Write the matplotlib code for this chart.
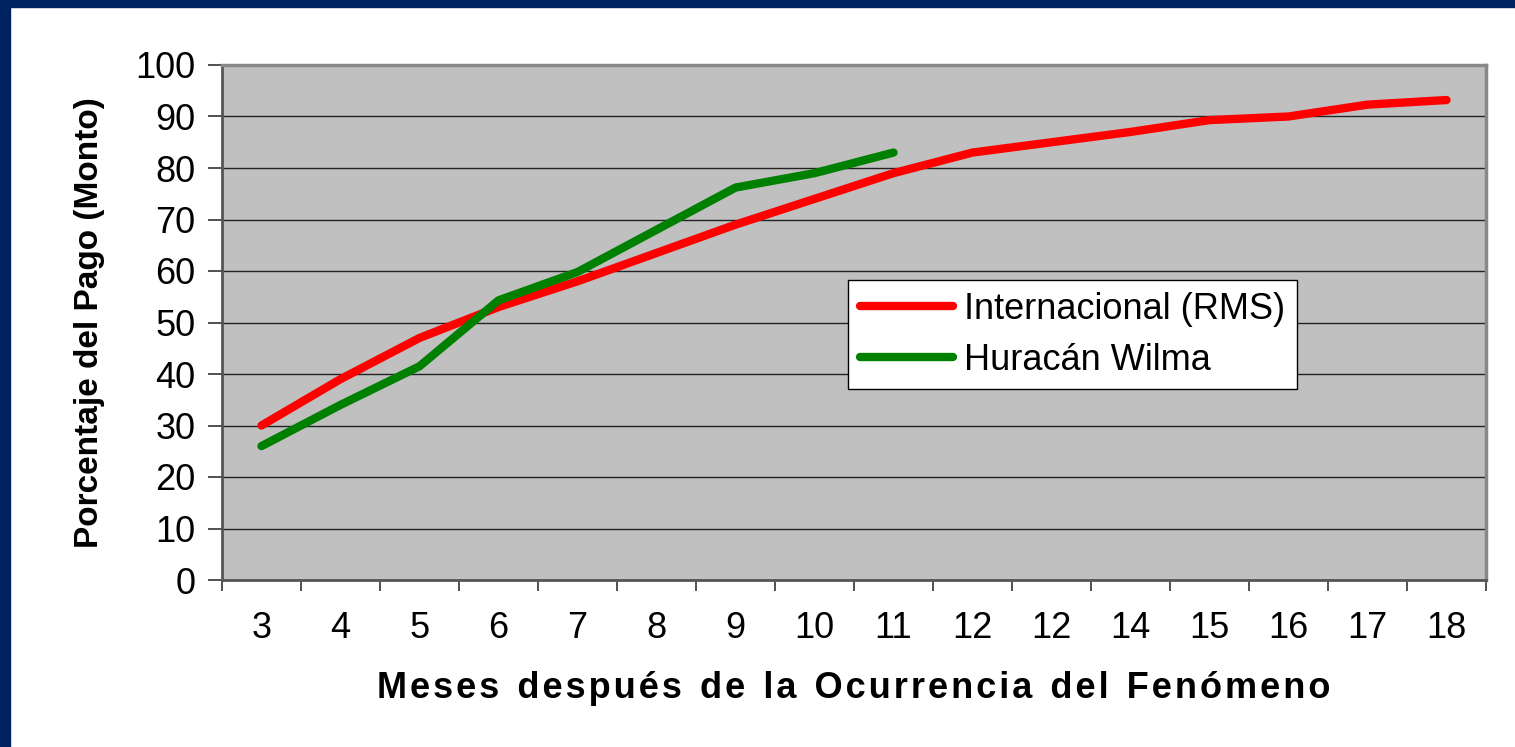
import matplotlib
matplotlib.use("Agg")
import matplotlib.pyplot as plt
from matplotlib.patches import Rectangle
import numpy as np

plt.rcParams["font.family"] = ["Liberation Sans", "DejaVu Sans"]

MESES = ["3", "4", "5", "6", "7", "8", "9", "10", "11", "12", "12", "14", "15", "16", "17", "18"]
INTERNACIONAL = [30, 39, 47, 53, 58, 63.5, 69, 74, 79, 83, 85, 87, 89.3, 90, 92.3, 93.2]
WILMA = [26, 34, 41.5, 54.3, 59.8, 68, 76.2, 79, 83]

NAVY = "#00215F"
RED = "#FF0000"
GREEN = "#008000"

fig = plt.figure(figsize=(15.15, 7.47), dpi=100)
W, H = 1515, 747

# navy frame at top and left
fig.patches.append(Rectangle((0, 1 - 7 / H), 1, 7 / H, transform=fig.transFigure,
                             color=NAVY, zorder=0))
fig.patches.append(Rectangle((0, 0), 10 / W, 1, transform=fig.transFigure,
                             color=NAVY, zorder=0))

left, right, top, bottom = 222, 1486, 65, 580
ax = fig.add_axes([left / W, 1 - bottom / H, (right - left) / W, (bottom - top) / H])
ax.set_facecolor("#C0C0C0")

x = np.arange(len(MESES))
ax.plot(x, INTERNACIONAL, color=RED, lw=6, solid_capstyle="round",
        solid_joinstyle="round", label="Internacional (RMS)", zorder=3)
ax.plot(x[:len(WILMA)], WILMA, color=GREEN, lw=6, solid_capstyle="round",
        solid_joinstyle="round", label="Huracán Wilma", zorder=3)

ax.set_xlim(-0.5, len(MESES) - 0.5)
ax.set_ylim(0, 100)
ax.set_yticks(range(0, 101, 10))
ax.yaxis.grid(True, color="#222222", lw=1.0)
ax.set_axisbelow(True)

ax.set_xticks(x)
ax.set_xticklabels(MESES)
ax.set_xticks(np.arange(-0.5, len(MESES), 1), minor=True)
ax.tick_params(axis="x", which="major", length=0, pad=22, labelsize=26)
ax.tick_params(axis="x", which="minor", length=8, width=1.2, color="#333333")
ax.tick_params(axis="y", length=10, width=1.2, color="#333333", labelsize=26, pad=9)

for side in ["left", "bottom"]:
    ax.spines[side].set_color("#555555")
    ax.spines[side].set_linewidth(2)
for side in ["top", "right"]:
    ax.spines[side].set_color("#888888")
    ax.spines[side].set_linewidth(2.5)

ax.set_ylabel("Porcentaje del Pago (Monto)", fontsize=24, fontweight="bold",
              labelpad=22)
ax.set_xlabel("M e s e s   d e s p u é s   d e   l a   O c u r r e n c i a   d e l   F e n ó m e n o"
              .replace("   ", "\u2002").replace(" ", "\u200a"),
              fontsize=26, fontweight="bold", labelpad=18)

leg = ax.legend(loc="upper left", bbox_to_anchor=((848 - left) / (right - left), 1 - (280 - top) / (bottom - top)),
                fontsize=26, frameon=True, fancybox=False, edgecolor="black",
                handlelength=2.6, handletextpad=0.3, borderpad=0.32, labelspacing=0.45,
                borderaxespad=0)
leg.get_frame().set_linewidth(1.0)
leg.get_frame().set_facecolor("white")
leg.get_frame().set_alpha(1)

fig.savefig("out.png", dpi=100, facecolor="white")
